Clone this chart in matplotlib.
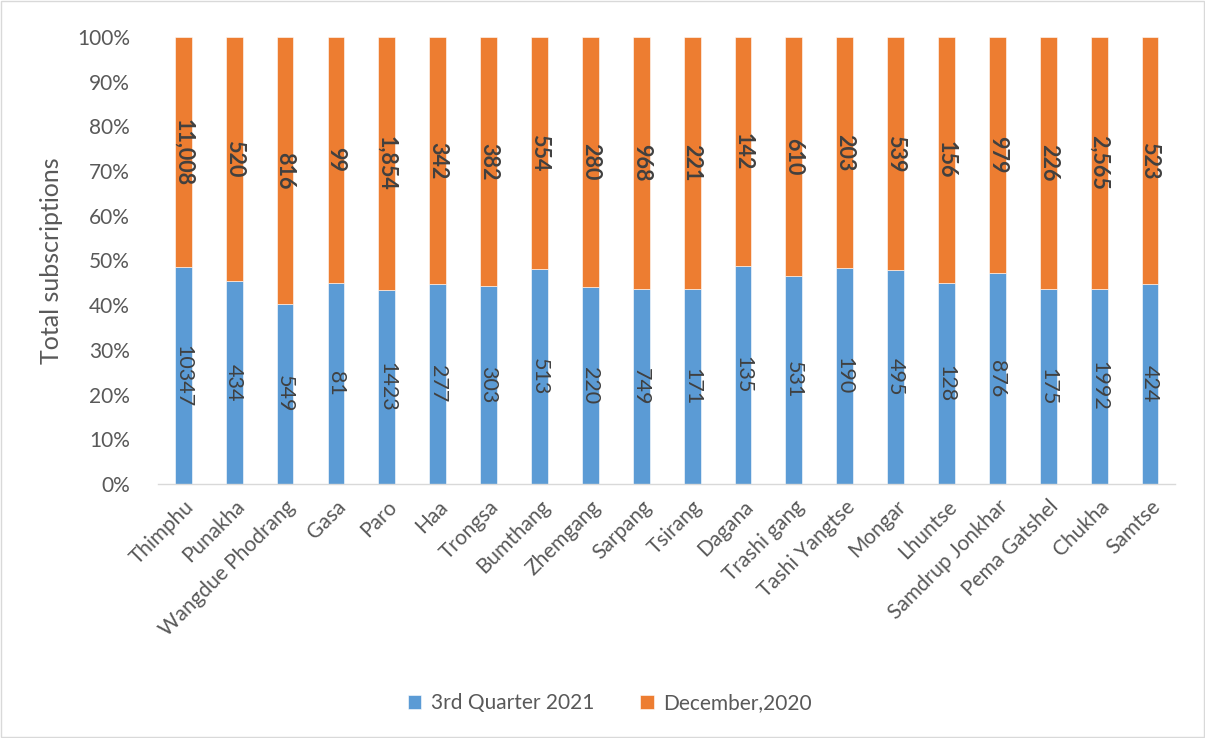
import numpy as np
import matplotlib.pyplot as plt
from matplotlib.patches import Rectangle

plt.rcParams['font.family'] = ['Lato', 'DejaVu Sans']

districts = ['Thimphu', 'Punakha', 'Wangdue Phodrang', 'Gasa', 'Paro', 'Haa', 'Trongsa',
             'Bumthang', 'Zhemgang', 'Sarpang', 'Tsirang', 'Dagana', 'Trashi gang',
             'Tashi Yangtse', 'Mongar', 'Lhuntse', 'Samdrup Jonkhar', 'Pema Gatshel',
             'Chukha', 'Samtse']
q3_2021 = [10347, 434, 549, 81, 1423, 277, 303, 513, 220, 749, 171, 135, 531, 190,
           495, 128, 876, 175, 1992, 424]
dec_2020 = [11008, 520, 816, 99, 1854, 342, 382, 554, 280, 968, 221, 142, 610, 203,
            539, 156, 979, 226, 2565, 523]

blue = '#5B9BD5'
orange = '#ED7D31'

a = np.array(q3_2021, dtype=float)
b = np.array(dec_2020, dtype=float)
tot = a + b
pa = a / tot * 100
pb = b / tot * 100
x = np.arange(len(districts))

fig = plt.figure(figsize=(12.05, 7.38), dpi=100)
ax = fig.add_axes([0.131, 0.3442, 0.8445, 0.6057])

w = 0.33
ax.bar(x, pa, w, color=blue, edgecolor='white', linewidth=0.4, label='3rd Quarter 2021')
ax.bar(x, pb, w, bottom=pa, color=orange, edgecolor='white', linewidth=0.4,
       label='December,2020')

for i in range(len(x)):
    ax.text(x[i], pa[i] / 2, str(q3_2021[i]), rotation=-90, ha='center', va='center',
            fontsize=15.5, color='#404040')
    ax.text(x[i], pa[i] + pb[i] / 2, '{:,}'.format(dec_2020[i]), rotation=-90,
            ha='center', va='center', fontsize=15.5, color='#404040', fontweight='bold')

ax.set_xlim(-0.5, len(x) - 0.5)
ax.set_ylim(0, 100)
ax.set_yticks(np.arange(0, 101, 10))
ax.set_yticklabels(['{}%'.format(v) for v in range(0, 101, 10)])
ax.set_xticks(x)
ax.set_xticklabels(districts, rotation=45, ha='right', rotation_mode='anchor')
ax.tick_params(axis='both', length=0, labelsize=15, labelcolor='#595959')
ax.tick_params(axis='x', pad=9)
ax.tick_params(axis='y', pad=20)
for s in ['top', 'right', 'left']:
    ax.spines[s].set_visible(False)
ax.spines['bottom'].set_color('#D9D9D9')
ax.spines['bottom'].set_linewidth(1)
ax.set_ylabel('Total subscriptions', fontsize=18, color='#595959', labelpad=10)

fig.legend(loc='center', bbox_to_anchor=(0.506, 0.047), ncol=2, frameon=False,
           fontsize=15, handlelength=0.65, handleheight=0.65, columnspacing=2.2,
           handletextpad=0.45, labelcolor='#595959')

fig.patches.append(Rectangle((0.001, 0.001), 0.998, 0.998, transform=fig.transFigure,
                             fill=False, edgecolor='#D9D9D9', linewidth=1))

fig.savefig('out.png', dpi=100)
